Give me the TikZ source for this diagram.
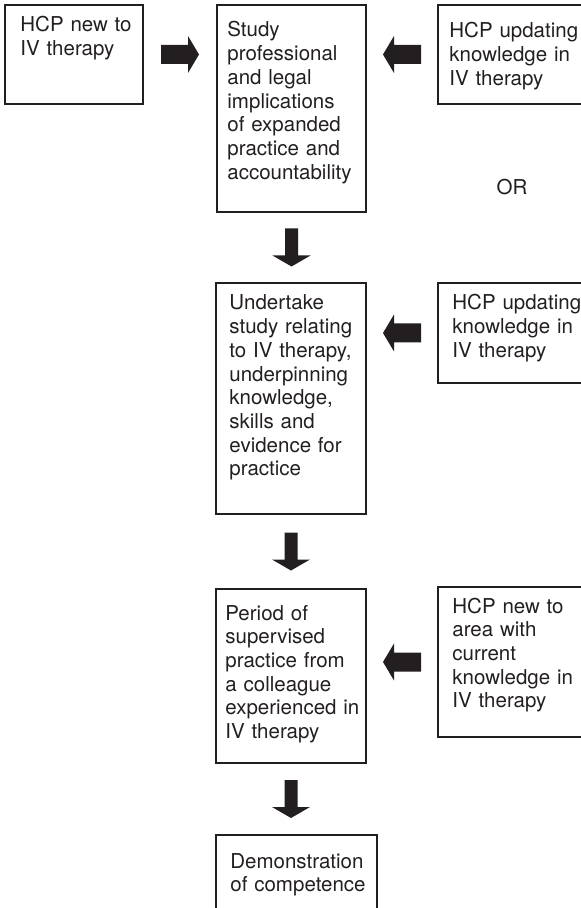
\documentclass[tikz,border=0pt]{standalone}
\usepackage{fontspec}
\setmainfont{TeX Gyre Heros}
\usetikzlibrary{calc}
\definecolor{encre}{RGB}{35,31,32}

\begin{document}
\begin{tikzpicture}[
    x=0.5pt, y=-0.5pt,
    cadre/.style={rectangle, draw=encre, line width=1pt,
      inner sep=0pt, outer sep=0pt, anchor=north west},
    texte/.style={anchor=base west, inner sep=0pt, text width=90pt,
      align=left, text=encre, font=\fontsize{10.25}{11.85}\selectfont},
    mot/.style={anchor=base, inner sep=0pt, text=encre,
      font=\fontsize{10.25}{11.85}\selectfont},
    flecheh/.pic={\fill[encre] (19,0) -- (8,-18.5) -- (8,-9.5) -- (-19,-9.5)
      -- (-19,9.5) -- (8,9.5) -- (8,18.5) -- cycle;},
    flechev/.pic={\fill[encre] (0,19) -- (-19,8) -- (-6.5,8) -- (-6.5,-19)
      -- (6.5,-19) -- (6.5,8) -- (19,8) -- cycle;}
  ]
  \path[use as bounding box, clip] (0,0) rectangle (581,908);

  \path (5,5) node(a) [cadre, minimum width=69pt, minimum height=49.5pt] {}
  (217,5) node(b) [cadre, minimum width=74.5pt, minimum height=103.5pt] {}
  (438,5) node(c) [cadre, minimum width=100pt, minimum height=49.5pt] {}
  (216,283) node(d) [cadre, minimum width=75pt, minimum height=115.5pt] {}
  (438,283) node(e) [cadre, minimum width=100pt, minimum height=50pt] {}
  (216,589) node(f) [cadre, minimum width=75pt, minimum height=87pt] {}
  (438,587) node(g) [cadre, minimum width=100pt, minimum height=75pt] {}
  (216,835) node(h) [cadre, minimum width=80.5pt, minimum height=50pt] {};

  \path ($(a.north west)+(15,27)$) node(ta) [texte] {
    HCP new to\\
    IV therapy
  }
  ($(b.north west)+(10,32)$) node(tb) [texte] {
    Study\\
    professional\\
    and legal\\
    implications\\
    of expanded\\
    practice and\\
    accountability
  }
  ($(c.north west)+(11,33)$) node(tc) [texte] {
    HCP updating\\
    knowledge in\\
    IV therapy
  }
  ($(d.north west)+(13,27)$) node(td) [texte] {
    Undertake\\
    study relating\\
    to IV therapy,\\
    underpinning\\
    knowledge,\\
    skills and\\
    evidence for\\
    practice
  }
  ($(e.north west)+(14,27)$) node(te) [texte] {
    HCP updating\\
    knowledge in\\
    IV therapy
  }
  ($(f.north west)+(9,31)$) node(tf) [texte] {
    Period of\\
    supervised\\
    practice from\\
    a colleague\\
    experienced in\\
    IV therapy
  }
  ($(g.north west)+(14,26)$) node(tg) [texte] {
    HCP new to\\
    area with\\
    current\\
    knowledge in\\
    IV therapy
  }
  ($(h.north west)+(14,33)$) node(th) [texte] {
    Demonstration\\
    of competence
  }
  (512,195) node(or) [mot] {OR};

  \pic at ($(a.east)!0.5!(a.east -| b.west)$) {flecheh};
  \pic[xscale=-1] at ($(b.east |- c.west)!0.5!(c.west)$) {flecheh};
  \pic[xscale=-1] at ($(d.east |- e.west)!0.5!(e.west)$) {flecheh};
  \pic[xscale=-1] at ($(f.east |- g.west)!0.5!(g.west)$) {flecheh};
  \pic at ($(b.south)!0.5!(b.south |- d.north)$) {flechev};
  \pic at ($(d.south)!0.5!(d.south |- f.north)$) {flechev};
  \pic at ($(f.south)!0.5!(f.south |- h.north)$) {flechev};
\end{tikzpicture}
\end{document}
